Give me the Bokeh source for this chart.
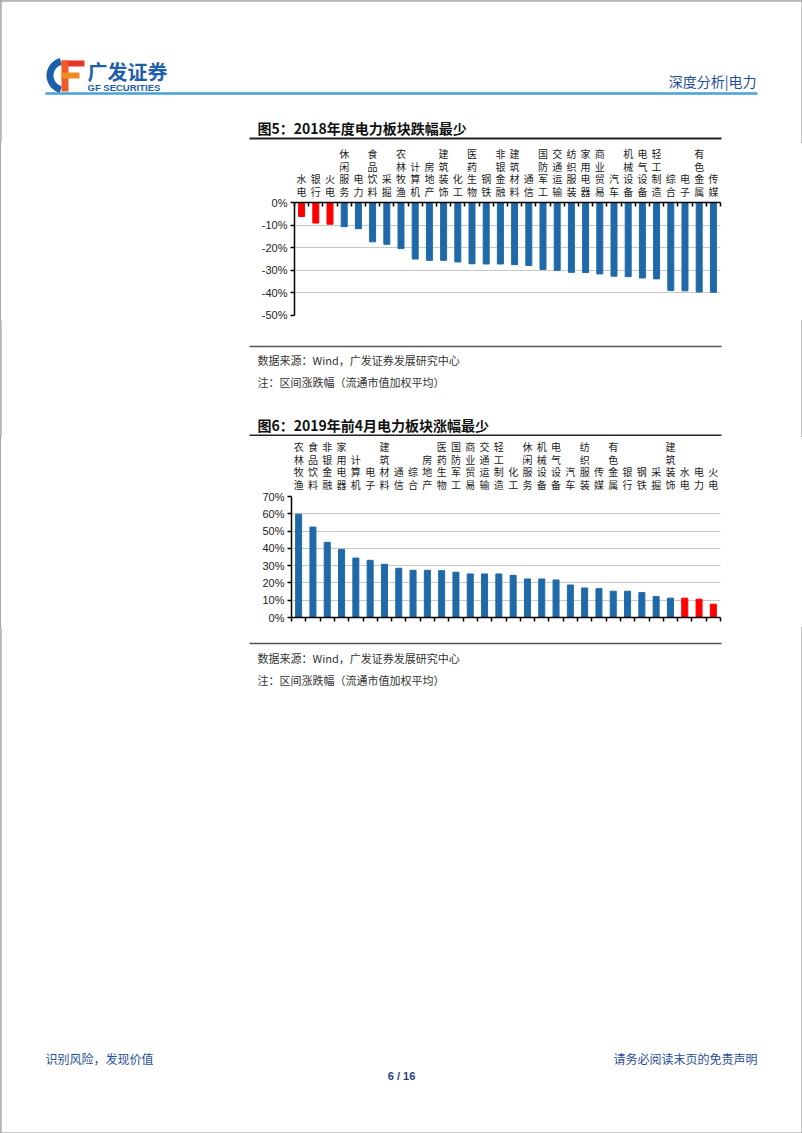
import numpy as np
from bokeh.plotting import figure
from bokeh.layouts import column
from bokeh.models import (Range1d, LinearAxis, FixedTicker,
                          PrintfTickFormatter, ColumnDataSource, Grid)
from bokeh.core.properties import value
from bokeh.embed import file_html
from bokeh.resources import INLINE

# ---------------- data ----------------
cats_2018 = ["水电", "银行", "火电", "休闲服务", "电力", "食品饮料", "采掘", "农林牧渔", "计算机", "房地产",
             "建筑装饰", "化工", "医药生物", "钢铁", "非银金融", "建筑材料", "通信", "国防军工", "交通运输", "纺织服装",
             "家用电器", "商业贸易", "汽车", "机械设备", "电气设备", "轻工制造", "综合", "电子", "有色金属", "传媒"]
vals_2018 = [-6.2, -9.1, -9.6, -10.7, -11.6, -17.4, -18.5, -20.4, -25.0, -25.6,
             -25.6, -26.3, -27.1, -27.2, -27.2, -27.5, -27.9, -29.6, -30.0, -30.9,
             -31.0, -31.6, -32.6, -32.8, -33.4, -33.8, -38.9, -39.1, -39.6, -39.7]
hl_2018 = ["水电", "银行", "火电"]

cats_2019 = ["农林牧渔", "食品饮料", "非银金融", "家用电器", "计算机", "电子", "建筑材料", "通信", "综合", "房地产",
             "医药生物", "国防军工", "商业贸易", "交通运输", "轻工制造", "化工", "休闲服务", "机械设备", "电气设备", "汽车",
             "纺织服装", "传媒", "有色金属", "银行", "钢铁", "采掘", "建筑装饰", "水电", "电力", "火电"]
vals_2019 = [59.8, 52.3, 43.5, 39.4, 34.4, 33.1, 30.8, 28.5, 27.3, 27.3,
             27.1, 26.2, 25.2, 25.2, 25.2, 24.4, 22.3, 22.3, 21.7, 18.8,
             17.1, 16.7, 15.2, 15.2, 14.4, 12.1, 11.2, 11.2, 10.6, 7.7]
hl_2019 = ["水电", "电力", "火电"]

ticks_2018 = [0, -10, -20, -30, -40, -50]
ticks_2019 = [0, 10, 20, 30, 40, 50, 60, 70]

BLUE = "#1f69a9"
RED = "#ff0000"
CJK = "Noto Sans CJK SC"
LAT = "Liberation Sans"
W = 802
H = 1133
EDGE = "#8a8a8a"


def deco(y0, y1):
    p = figure(width=W, height=y1 - y0, x_range=Range1d(0, W), y_range=Range1d(y1, y0),
               min_border=0, min_border_left=0, min_border_right=0, min_border_top=0, min_border_bottom=0,
               x_axis_location=None, y_axis_location=None, toolbar_location=None, tools="",
               output_backend="svg", frame_align=False)
    p.grid.visible = False
    p.outline_line_color = None
    p.background_fill_color = "white"
    p.border_fill_color = "white"
    # page frame (left / right edges)
    p.segment(x0=[0.5, W - 0.5], y0=[y0, y0], x1=[0.5, W - 0.5], y1=[y1, y1],
              line_color=EDGE, line_width=1)
    return p


def txt(p, x, y, s, size, color="#333333", bold=False, align="left", font=CJK):
    p.text(x=[x], y=[y], text=[s], text_font=value(font), text_font_size=f"{size}px",
           text_color=color, text_font_style="bold" if bold else "normal",
           text_align=align, text_baseline="middle")


def hline(p, x0, x1, y, color, width):
    p.segment(x0=[x0], y0=[y], x1=[x1], y1=[y], line_color=color, line_width=width)


def chart(cats, vals, hl, yr, yticks, left, fw, top, fh, bottom, labels_gap, tick_top):
    n = len(cats)
    pos = (np.arange(n) + 0.5).tolist()
    bounds = list(range(n + 1))
    src = ColumnDataSource(dict(x=pos, val=vals,
                                color=[RED if c in hl else BLUE for c in cats]))
    p = figure(x_range=Range1d(0, n), y_range=Range1d(*yr),
               frame_width=fw, frame_height=fh,
               min_border_left=left, min_border_right=W - left - fw,
               min_border_top=top, min_border_bottom=bottom,
               x_axis_location=None, y_axis_location=None,
               toolbar_location=None, tools="", output_backend="svg", frame_align=False)
    p.grid.visible = False
    p.outline_line_color = None
    p.border_fill_color = "white"
    grid_ticks = [t for t in yticks if t != 0]
    p.add_layout(Grid(dimension=1, ticker=FixedTicker(ticks=grid_ticks),
                      grid_line_color="#c8c8c8", grid_line_width=1))
    p.vbar(x="x", top="val", bottom=0, width=0.42, color="color", source=src)

    ya = LinearAxis(ticker=FixedTicker(ticks=yticks), formatter=PrintfTickFormatter(format="%d%%"),
                    major_tick_in=0, major_tick_out=4, minor_tick_line_color=None,
                    axis_line_color="black", axis_line_width=1.5,
                    major_tick_line_color="black", major_tick_line_width=1.5,
                    major_label_text_font=LAT, major_label_text_font_size="11px",
                    major_label_text_color="#222222", major_label_standoff=3)
    p.add_layout(ya, "left")

    label_kw = dict(major_label_overrides={x: "\n".join(c) for x, c in zip(pos, cats)},
                    major_label_text_font=CJK, major_label_text_font_size="10px",
                    major_label_text_line_height=0.83,
                    major_label_text_color="#222222", major_label_standoff=labels_gap,
                    major_tick_in=0, major_tick_out=0, major_tick_line_color=None)
    if tick_top:
        ax = LinearAxis(ticker=FixedTicker(ticks=pos, minor_ticks=bounds),
                        axis_line_color="black", axis_line_width=1.5,
                        minor_tick_in=4, minor_tick_out=0,
                        minor_tick_line_color="black", minor_tick_line_width=1.5, **label_kw)
        p.add_layout(ax, "above")
    else:
        ta = LinearAxis(ticker=FixedTicker(ticks=[], minor_ticks=bounds),
                        axis_line_color="black", axis_line_width=1.5,
                        major_tick_line_color=None, major_label_standoff=0,
                        minor_tick_in=0, minor_tick_out=4,
                        minor_tick_line_color="black", minor_tick_line_width=1.5)
        p.add_layout(ta, "below")
        la = LinearAxis(ticker=FixedTicker(ticks=pos), axis_line_color=None,
                        minor_tick_line_color=None, **label_kw)
        p.add_layout(la, "above")
    return p


# ---------------- top: header + title 1 ----------------
top = deco(0, 142)
hline(top, 0, W, 0.5, EDGE, 1)
th = np.radians(np.linspace(105, 255, 30))
ox = list(64 + 18 * np.cos(th)) + list(64 + 11 * np.cos(th[::-1]))
oy = list(75 - 18 * np.sin(th)) + list(75 - 11 * np.sin(th[::-1]))
top.patch(ox, oy, fill_color="#1c5fad", line_color=None)
top.quad(left=[61], right=[84], top=[60], bottom=[66], fill_color="#e8372a", line_color=None)
top.quad(left=[61], right=[68], top=[60], bottom=[91], fill_color="#ee5a28", line_color=None)
top.quad(left=[61], right=[79], top=[72], bottom=[78], fill_color="#f08a24", line_color=None)
txt(top, 87, 71, "广发证券", 20, color="#1f5ea8", bold=True)
txt(top, 87, 87, "GF SECURITIES", 9.5, color="#1f5ea8", bold=True, font=LAT)
txt(top, 756, 80, "深度分析|电力", 14, color="#1f4e9a", align="right")
hline(top, 45, 757, 93, "#45a2d6", 2.5)
txt(top, 257, 127, "图5：2018年度电力板块跌幅最少", 14, color="#111111", bold=True)
hline(top, 249, 721, 138, "#222222", 2)

# ---------------- chart 1 ----------------
c1 = chart(cats_2018, vals_2018, hl_2018, (-50, 0), ticks_2018,
           left=294, fw=426, top=60, fh=113, bottom=5, labels_gap=4, tick_top=True)

# ---------------- middle ----------------
mid = deco(320, 436)
hline(mid, 249, 721, 346, "#555555", 1.5)
txt(mid, 257, 359, "数据来源：Wind，广发证券发展研究中心", 11)
txt(mid, 257, 381, "注：区间涨跌幅（流通市值加权平均）", 11)
txt(mid, 257, 424, "图6：2019年前4月电力板块涨幅最少", 14, color="#111111", bold=True)
hline(mid, 249, 721, 435, "#222222", 2)

# ---------------- chart 2 ----------------
c2 = chart(cats_2019, vals_2019, hl_2019, (0, 70), ticks_2019,
           left=291, fw=429, top=60, fh=121, bottom=10, labels_gap=5, tick_top=False)

# ---------------- bottom ----------------
bot = deco(627, H)
hline(bot, 0, W, H - 0.5, EDGE, 1)
hline(bot, 249, 721, 643, "#555555", 1.5)
txt(bot, 257, 657, "数据来源：Wind，广发证券发展研究中心", 11)
txt(bot, 257, 679, "注：区间涨跌幅（流通市值加权平均）", 11)
txt(bot, 45, 1058, "识别风险，发现价值", 12, color="#1f4e9a")
txt(bot, 757, 1058, "请务必阅读末页的免责声明", 12, color="#1f4e9a", align="right")
txt(bot, 401, 1075, "6 / 16", 11, color="#1f3f7f", bold=True, align="center", font=LAT)

page = column(top, c1, mid, c2, bot, spacing=0,
              styles={"outline": "1px solid #8a8a8a", "outline-offset": "-1px"})

open("out.html", "w").write(file_html(page, INLINE))
